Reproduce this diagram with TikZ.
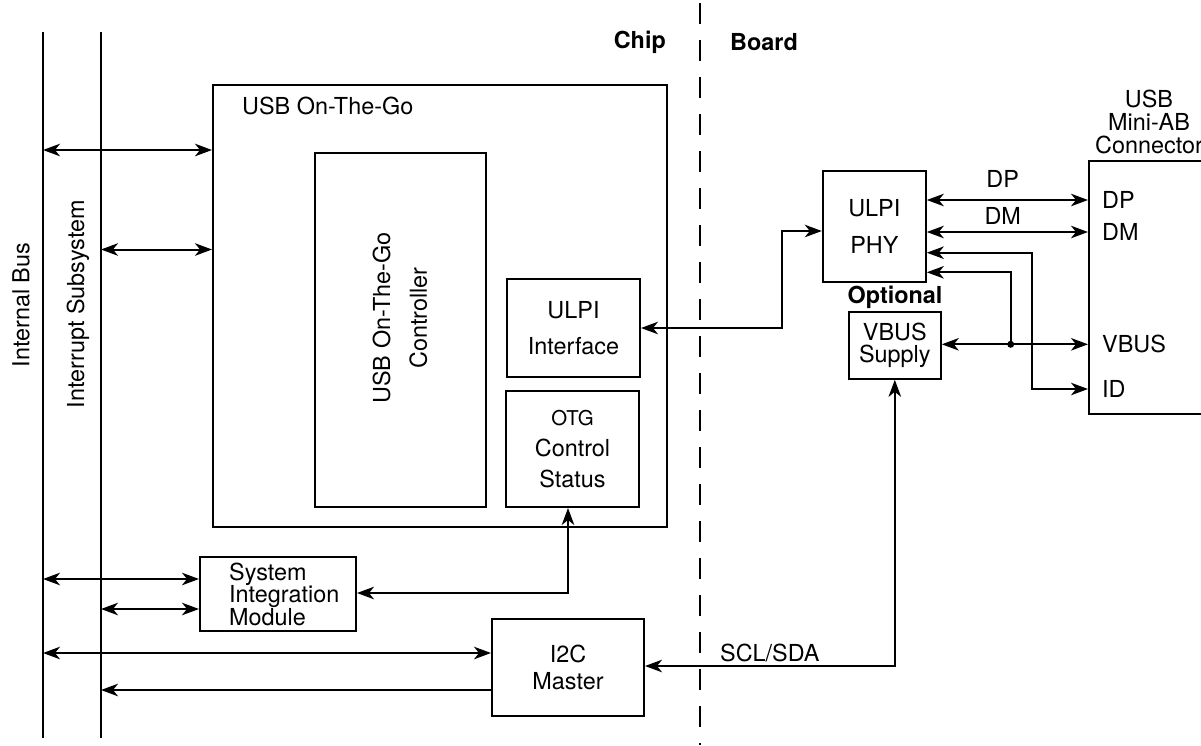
\documentclass[tikz,border=0pt]{standalone}
\usepackage{fontspec}
\setmainfont{TeX Gyre Heros}
\usetikzlibrary{arrows.meta}
\tikzset{
  usbbox/.style={draw,line width=2pt,inner sep=0pt,align=center},
  usbline/.style={line width=2pt},
  usblink/.style={<->,line width=2pt},
  usbtext/.style={inner sep=0pt,align=center},
  >={Stealth[length=17pt,width=12.5pt,inset=5pt]}
}
\newcommand{\usbfont}[1]{\fontsize{23.4}{#1}\selectfont}

\begin{document}
\begin{tikzpicture}[x=1pt,y=-1pt,font=\usbfont{26}]
  \useasboundingbox (0,0) rectangle (1201,745);
  % buses on the left
  \coordinate (ibustop) at (43,32);
  \coordinate (ibusbot) at (43,738);
  \coordinate (isubtop) at (101,32);
  \coordinate (isubbot) at (101,738);
  \draw[usbline] (ibustop) -- (ibusbot);
  \draw[usbline] (isubtop) -- (isubbot);
  \node[usbtext,rotate=90] (ibuslabel) at (21,305) {Internal Bus};
  \node[usbtext,rotate=90] (isublabel) at (78,304) {Interrupt Subsystem};
  % chip / board border
  \draw[usbline,dash pattern=on 21pt off 16pt] (700,3) -- (700,745);
  \node[usbtext,anchor=east,font=\usbfont{26}\bfseries] (chip) at (666,42) {Chip};
  \node[usbtext,anchor=west,font=\usbfont{26}\bfseries] (board) at (730,42) {Board};
  % blocks on the chip
  \node[usbbox,minimum width=454pt,minimum height=442pt] (otg) at (440,306) {};
  \node[usbtext,anchor=west] (otglabel) at (242,106) {USB On-The-Go};
  \node[usbbox,minimum width=171pt,minimum height=354pt] (ctrl) at (400.5,330) {};
  \node[usbtext,rotate=90,font=\usbfont{36.7}] (ctrllabel) at (400,318)
    {USB On-The-Go\\Controller};
  \node[usbbox,minimum width=133pt,minimum height=98pt,font=\usbfont{36.7}]
    (ulpi) at (573.5,328) {ULPI\\Interface};
  \node[usbbox,minimum width=133pt,minimum height=116pt,font=\usbfont{31}]
    (otgc) at (572.5,449) {{\fontsize{20.4}{31}\selectfont OTG}\\Control\\Status};
  \node[usbbox,minimum width=156pt,minimum height=74pt] (sim) at (278,594) {};
  \node[usbtext,anchor=west,align=left,font=\usbfont{22.5}] (simlabel) at (229,594)
    {System\\Integration\\Module};
  \node[usbbox,minimum width=152pt,minimum height=97pt,font=\usbfont{26.7}]
    (i2c) at (568,667.5) {I2C\\Master};
  % blocks on the board
  \node[usbbox,minimum width=103pt,minimum height=111pt,font=\usbfont{36.7}]
    (phy) at (874.3,226.3) {ULPI\\PHY};
  \node[usbtext,font=\usbfont{26}\bfseries] (optional) at (895,297.7) {Optional};
  \node[usbbox,minimum width=92pt,minimum height=67pt,font=\usbfont{22}]
    (vbus) at (894.8,345.3) {VBUS\\Supply};
  \node[usbbox,minimum width=130pt,minimum height=253pt] (conn) at (1154,287.4) {};
  \node[usbtext,font=\usbfont{23}] (conntitle) at (1149,122) {USB\\Mini-AB\\Connector};
  \node[usbtext,anchor=west] (pindp) at (1102,200) {DP};
  \node[usbtext,anchor=west] (pindm) at (1102,232) {DM};
  \node[usbtext,anchor=west] (pinvbus) at (1102,344.3) {VBUS};
  \node[usbtext,anchor=west] (pinid) at (1102,389) {ID};
  % links
  \draw[usblink] (ibustop |- 0,150) -- (otg.west |- 0,150);
  \draw[usblink] (isubtop |- 0,249.5) -- (otg.west |- 0,249.5);
  \draw[usblink] (ibustop |- 0,579) -- (sim.west |- 0,579);
  \draw[usblink] (isubtop |- 0,609) -- (sim.west |- 0,609);
  \draw[usblink] (ibustop |- 0,653) -- (i2c.west |- 0,653);
  \draw[usbline,->] (i2c.west |- 0,690) -- (isubtop |- 0,690);
  \draw[usblink] (568,0 |- otgc.south) |- (sim.east |- 0,593);
  \draw[usblink] (ulpi.east) -| (782,231) -- (phy.west |- 0,231);
  \draw[usblink] (phy.east |- 0,200) -- (conn.west |- 0,200);
  \draw[usblink] (phy.east |- 0,232) -- (conn.west |- 0,232);
  \draw[usblink] (phy.east |- 0,252.7) -| (1031.7,389) -- (conn.west |- 0,389);
  \draw[usbline,<-] (phy.east |- 0,272.3) -| (1010.7,344.3) coordinate (vbusjoin);
  \draw[usblink] (vbus.east |- 0,344.3) -- (conn.west |- 0,344.3);
  \fill (vbusjoin) circle (3.5pt);
  \draw[usblink] (i2c.east |- 0,666) -| (vbus.south);
  \node[usbtext] (dplabel) at (1002.7,179) {DP};
  \node[usbtext] (dmlabel) at (1002.7,215.7) {DM};
  \node[usbtext,anchor=west] (scllabel) at (720,653) {SCL/SDA};
\end{tikzpicture}
\end{document}
